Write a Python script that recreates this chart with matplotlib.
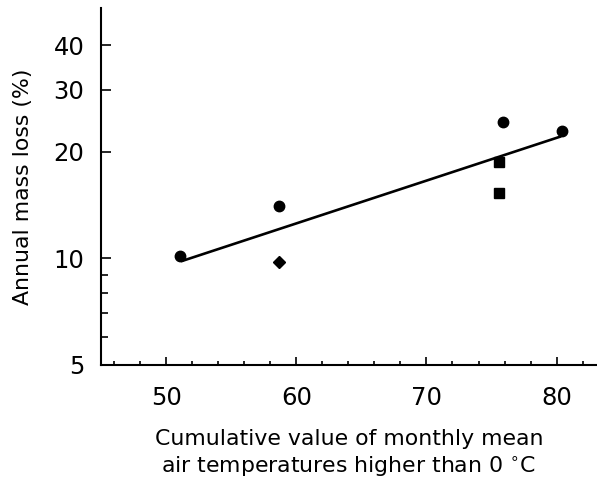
import numpy as np
import matplotlib.pyplot as plt
from matplotlib.ticker import FixedLocator, NullFormatter

plt.rcParams['font.family'] = ['DejaVu Sans']

# data
circle_x = [51.1, 58.7, 75.9, 80.4]
circle_y = [10.15, 14.1, 24.3, 22.9]
square_x = [75.6, 75.6]
square_y = [18.7, 15.3]
diamond_x = [58.7]
diamond_y = [9.76]
fit_x = [51.2, 80.3]
fit_y = [9.83, 22.1]

y_major = [5, 10, 20, 30, 40]
y_minor = [6, 7, 8, 9]
x_major = [50, 60, 70, 80]
x_minor = [46, 48, 52, 54, 56, 58, 62, 64, 66, 68, 72, 74, 76, 78, 82]

fig = plt.figure(figsize=(5.97, 4.78), dpi=100)
ax = fig.add_axes([101/597, 1 - 365/478, 496/597, 357/478])

ax.plot(fit_x, fit_y, color='black', lw=1.9, solid_capstyle='round')
ax.plot(circle_x, circle_y, 'o', color='black', ms=7.5, ls='none')
ax.plot(square_x, square_y, 's', color='black', ms=7, ls='none')
ax.plot(diamond_x, diamond_y, 'D', color='black', ms=6.5, ls='none')

ax.set_yscale('log')
ax.set_ylim(5, 51)
ax.set_xlim(45, 83.1)

ax.yaxis.set_major_locator(FixedLocator(y_major))
ax.yaxis.set_minor_locator(FixedLocator(y_minor))
ax.set_yticklabels([str(v) for v in y_major])
ax.yaxis.set_minor_formatter(NullFormatter())
ax.xaxis.set_major_locator(FixedLocator(x_major))
ax.xaxis.set_minor_locator(FixedLocator(x_minor))
ax.set_xticklabels([str(v) for v in x_major])

for s in ['top', 'right']:
    ax.spines[s].set_visible(False)
for s in ['left', 'bottom']:
    ax.spines[s].set_linewidth(1.5)

ax.tick_params(which='both', direction='in', width=1.2, labelsize=17.5)
ax.tick_params(axis='y', which='major', length=7, pad=12)
ax.tick_params(axis='y', which='minor', length=5)
ax.tick_params(axis='x', which='major', length=6, pad=15)
ax.tick_params(axis='x', which='minor', length=3)

ax.set_ylabel('Annual mass loss (%)', fontsize=15.8, labelpad=15)
ax.set_xlabel('Cumulative value of monthly mean\nair temperatures higher than 0 $^{\\circ}$C',
              fontsize=15.8, labelpad=14, linespacing=1.3)

fig.savefig('out.png', dpi=100)
